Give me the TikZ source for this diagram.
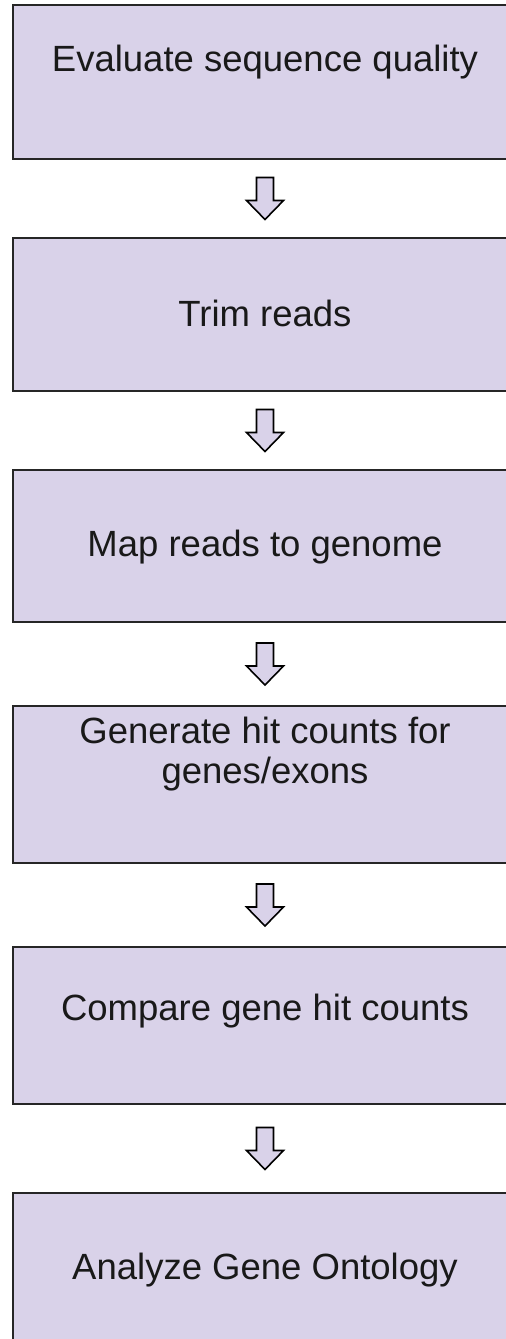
\documentclass[tikz,border=0pt]{standalone}
\usepackage{fontspec}
\setmainfont{Liberation Sans}
\usetikzlibrary{calc}
\definecolor{boxfill}{HTML}{D9D2E9}
\definecolor{boxline}{HTML}{262626}
\tikzset{
  stepbox/.style={draw=boxline, line width=2.4pt, fill=boxfill},
  steptext/.style={font=\fontsize{36.5}{40}\selectfont, text=black!90, align=center, inner sep=0pt},
  blockarrow/.style={draw=black, line width=1.6pt, fill=boxfill, line join=miter}
}
\newcommand{\downarrowblock}[1]{%
  \draw[blockarrow] ($(#1)+(-8.5,-21)$) -- ($(#1)+(8.5,-21)$) -- ($(#1)+(8.5,2)$) -- ($(#1)+(18.5,2)$) -- ($(#1)+(0,21)$) -- ($(#1)+(-18.5,2)$) -- ($(#1)+(-8.5,2)$) -- cycle;}
\begin{document}
\begin{tikzpicture}[x=1pt,y=-1pt]
\useasboundingbox (0,0) rectangle (506,1339);
\fill[white] (0,0) rectangle (506,1339);
\clip (0,0) rectangle (506,1339);
% boxes
\draw[stepbox] (13,5) rectangle (517,159);
\draw[stepbox] (13,238) rectangle (517,391);
\draw[stepbox] (13,470) rectangle (517,622);
\draw[stepbox] (13,706) rectangle (517,863);
\draw[stepbox] (13,947) rectangle (517,1104);
\draw[stepbox] (13,1193) rectangle (517,1360);
% box edges as named coordinates
\coordinate (b1s) at (265,159); \coordinate (b2n) at (265,238);
\coordinate (b2s) at (265,391); \coordinate (b3n) at (265,470);
\coordinate (b3s) at (265,622); \coordinate (b4n) at (265,706);
\coordinate (b4s) at (265,863); \coordinate (b5n) at (265,947);
\coordinate (b5s) at (265,1104); \coordinate (b6n) at (265,1193);
% texts
\node[steptext] (t1) at (265,62) {Evaluate sequence quality};
\node[steptext] (t2) at (265,313) {Trim reads};
\node[steptext] (t3) at (265,547) {Map reads to genome};
\node[steptext] (t4) at (265,754) {Generate hit counts for\\genes/exons};
\node[steptext] (t5) at (265,1011) {Compare gene hit counts};
\node[steptext] (t6) at (265,1270) {Analyze Gene Ontology};
% arrows
\coordinate (a1) at ($(b1s)!0.5!(b2n)$);
\coordinate (a2) at ($(b2s)!0.5!(b3n)$);
\coordinate (a3) at ($(b3s)!0.5!(b4n)$);
\coordinate (a4) at ($(b4s)!0.5!(b5n)$);
\coordinate (a5) at ($(b5s)!0.5!(b6n)$);
\downarrowblock{a1}
\downarrowblock{a2}
\downarrowblock{a3}
\downarrowblock{a4}
\downarrowblock{a5}
\end{tikzpicture}
\end{document}
